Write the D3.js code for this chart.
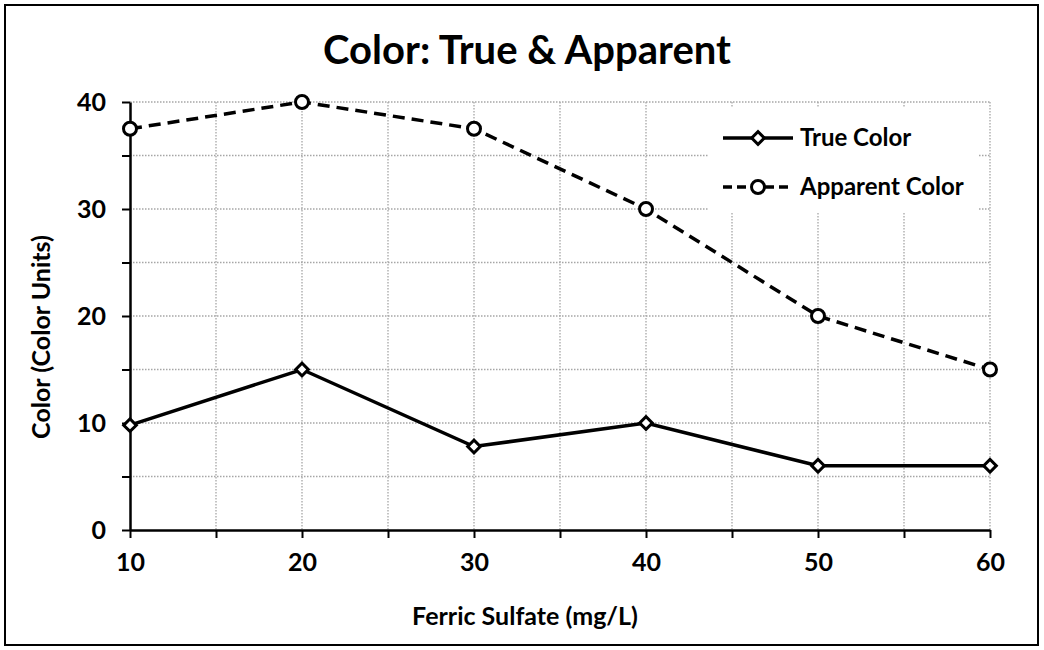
<!DOCTYPE html>
<html>
<head>
<meta charset="utf-8">
<title>Color: True & Apparent</title>
<script src="https://cdnjs.cloudflare.com/ajax/libs/d3/7.8.5/d3.min.js"></script>
<style>
  body { margin: 0; background: #fff; }
  text { font-family: Lato, "Open Sans", sans-serif; font-weight: bold; fill: #000; }
</style>
</head>
<body>
<script>
// chart data
var ferricSulfate = [10, 20, 30, 40, 50, 60];
var trueColor = [9.8, 15, 7.8, 10, 6, 6];
var apparentColor = [37.5, 40, 37.5, 30, 20, 15];
var xTicks = [10, 15, 20, 25, 30, 35, 40, 45, 50, 55, 60];
var yTicks = [0, 5, 10, 15, 20, 25, 30, 35, 40];
var seriesNames = ["True Color", "Apparent Color"];

var width = 1044, height = 650;
var plot = { left: 130, right: 990, top: 102, bottom: 530 };

var svg = d3.select("body").append("svg")
  .attr("width", width)
  .attr("height", height);

// outer frame
svg.append("rect")
  .attr("x", 5).attr("y", 5)
  .attr("width", 1033).attr("height", 640)
  .attr("fill", "#fff")
  .attr("stroke", "#000")
  .attr("stroke-width", 2);

var x = d3.scaleLinear().domain([10, 60]).range([plot.left, plot.right]);
var y = d3.scaleLinear().domain([0, 40]).range([plot.bottom, plot.top]);

// dotted gridlines
var grid = svg.append("g")
  .attr("stroke", "#a6a6a6")
  .attr("stroke-width", 1.3)
  .attr("stroke-dasharray", "1.5,1.5");

grid.selectAll("line.h")
  .data(yTicks.filter(function(d) { return d > 0; }))
  .enter().append("line")
    .attr("class", "h")
    .attr("x1", plot.left).attr("x2", plot.right)
    .attr("y1", function(d) { return y(d); })
    .attr("y2", function(d) { return y(d); });

grid.selectAll("line.v")
  .data(xTicks.filter(function(d) { return d > 10; }))
  .enter().append("line")
    .attr("class", "v")
    .attr("y1", plot.top).attr("y2", plot.bottom)
    .attr("x1", function(d) { return x(d); })
    .attr("x2", function(d) { return x(d); });

// axes
var xAxis = d3.axisBottom(x)
  .tickValues(xTicks)
  .tickSize(8)
  .tickSizeOuter(0)
  .tickPadding(10)
  .tickFormat(function(d) { return d % 10 === 0 ? d : ""; });

var yAxis = d3.axisLeft(y)
  .tickValues(yTicks)
  .tickSize(8)
  .tickSizeOuter(0)
  .tickPadding(16)
  .tickFormat(function(d) { return d % 10 === 0 ? d : ""; });

var gx = svg.append("g")
  .attr("transform", "translate(0," + plot.bottom + ")")
  .call(xAxis);

var gy = svg.append("g")
  .attr("transform", "translate(" + plot.left + ",0)")
  .call(yAxis);

[gx, gy].forEach(function(g) {
  g.select(".domain").attr("stroke", "#000").attr("stroke-width", 2.5);
  g.selectAll(".tick line").attr("stroke", "#000").attr("stroke-width", 2);
  g.selectAll(".tick text")
    .attr("font-family", null)
    .attr("font-size", null)
    .style("font-size", "25px");
});
gx.selectAll(".tick text").attr("dy", "0.9em");

// lines
var lineGen = d3.line()
  .x(function(d, i) { return x(ferricSulfate[i]); })
  .y(function(d) { return y(d); });

svg.append("path")
  .datum(trueColor)
  .attr("d", lineGen)
  .attr("fill", "none")
  .attr("stroke", "#000")
  .attr("stroke-width", 3.5);

svg.append("path")
  .datum(apparentColor)
  .attr("d", lineGen)
  .attr("fill", "none")
  .attr("stroke", "#000")
  .attr("stroke-width", 3.5)
  .attr("stroke-dasharray", "12,7");

var diamond = d3.symbol().type(d3.symbolSquare).size(80);

svg.selectAll("path.diamond")
  .data(trueColor)
  .enter().append("path")
    .attr("class", "diamond")
    .attr("d", diamond)
    .attr("transform", function(d, i) { return "translate(" + x(ferricSulfate[i]) + "," + y(d) + ") rotate(45)"; })
    .attr("fill", "#fff")
    .attr("stroke", "#000")
    .attr("stroke-width", 3);

svg.selectAll("circle.pt")
  .data(apparentColor)
  .enter().append("circle")
    .attr("class", "pt")
    .attr("cx", function(d, i) { return x(ferricSulfate[i]); })
    .attr("cy", function(d) { return y(d); })
    .attr("r", 6.5)
    .attr("fill", "#fff")
    .attr("stroke", "#000")
    .attr("stroke-width", 3);

// legend
var legend = svg.append("g");
legend.append("rect")
  .attr("x", 708).attr("y", 108)
  .attr("width", 270).attr("height", 104)
  .attr("fill", "#fff");

var legendRows = [138, 187];
seriesNames.forEach(function(name, i) {
  var ly = legendRows[i];
  legend.append("line")
    .attr("x1", 723).attr("x2", 793)
    .attr("y1", ly).attr("y2", ly)
    .attr("stroke", "#000")
    .attr("stroke-width", 3.5)
    .attr("stroke-dasharray", i === 1 ? "9,5" : null);
  if (i === 0) {
    legend.append("path")
      .attr("d", diamond)
      .attr("transform", "translate(758," + ly + ") rotate(45)")
      .attr("fill", "#fff").attr("stroke", "#000").attr("stroke-width", 3);
  } else {
    legend.append("circle")
      .attr("cx", 758).attr("cy", ly).attr("r", 6.5)
      .attr("fill", "#fff").attr("stroke", "#000").attr("stroke-width", 3);
  }
  legend.append("text")
    .attr("x", 800).attr("y", ly)
    .attr("dy", "0.35em")
    .style("font-size", "24px")
    .text(name);
});

// titles
svg.append("text")
  .attr("x", 527).attr("y", 64)
  .attr("text-anchor", "middle")
  .style("font-size", "40px")
  .text("Color: True & Apparent");

svg.append("text")
  .attr("x", 525).attr("y", 625)
  .attr("text-anchor", "middle")
  .style("font-size", "25px")
  .text("Ferric Sulfate (mg/L)");

svg.append("text")
  .attr("transform", "translate(50,337) rotate(-90)")
  .attr("text-anchor", "middle")
  .style("font-size", "25px")
  .text("Color (Color Units)");
</script>
</body>
</html>
